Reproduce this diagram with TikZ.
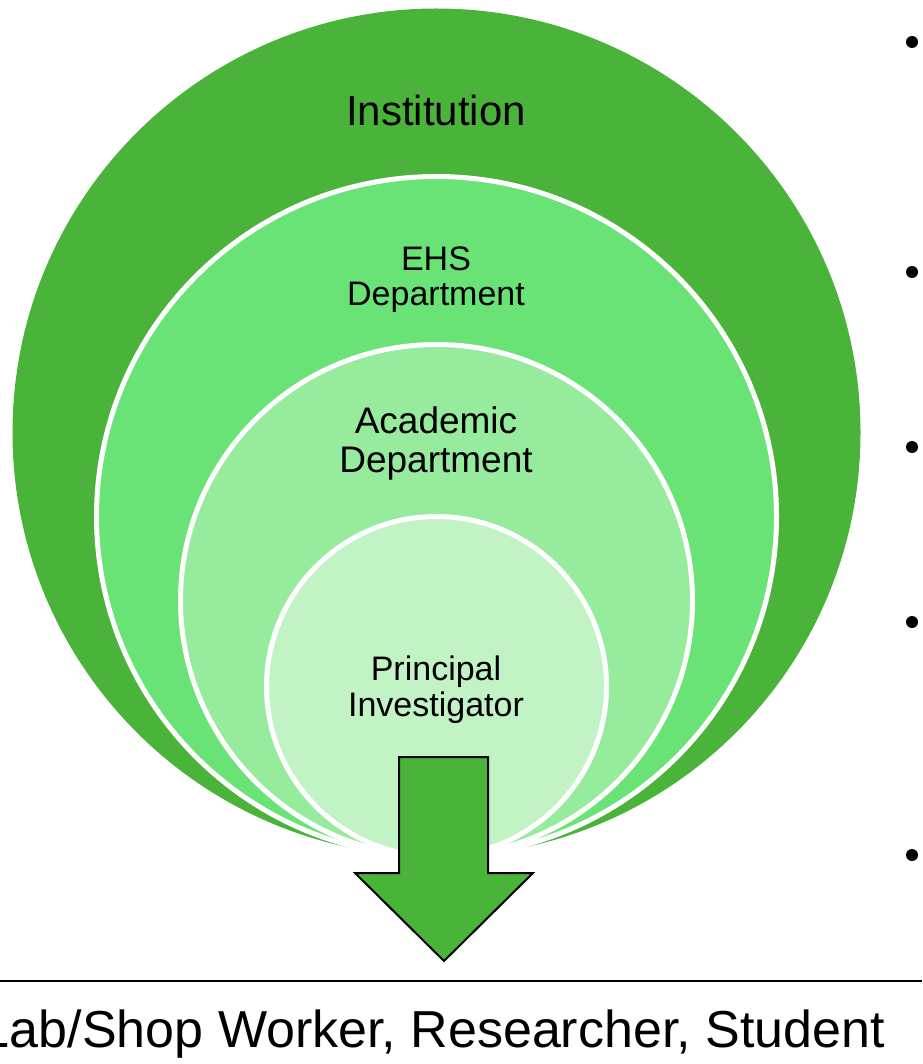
\documentclass[tikz,border=0pt]{standalone}
\usepackage{fontspec}
\setmainfont{Liberation Sans}
\definecolor{gOuter}{RGB}{73,180,57}
\definecolor{gEHS}{RGB}{106,227,118}
\definecolor{gAcad}{RGB}{150,235,156}
\definecolor{gPI}{RGB}{194,243,197}
\tikzset{
  ring/.style={line width=5pt, draw=white},
  lbl/.style={inner sep=0pt, align=center, text=black},
  bulletdot/.style={circle, fill=black, inner sep=0pt, minimum size=12pt},
}
\begin{document}
\begin{tikzpicture}[x=1pt,y=-1pt]
\useasboundingbox (0,0) rectangle (922,1064);
% nested circles (tangent at the bottom)
\fill[gOuter] (436.5,432.5) circle[radius=424];
\filldraw[ring, fill=gEHS] (436.5,516.5) circle[radius=340];
\filldraw[ring, fill=gAcad] (436.5,600.5) circle[radius=256];
\filldraw[ring, fill=gPI] (436.5,686.5) circle[radius=170];
% labels
\node[lbl, font=\fontsize{42}{44}\selectfont] (inst) at (436,110) {Institution};
\node[lbl, font=\fontsize{34}{35}\selectfont] (ehs) at (436,280) {EHS\\Department};
\node[lbl, font=\fontsize{37}{39}\selectfont] (acad) at (436,443) {Academic\\Department};
\node[lbl, font=\fontsize{34}{36}\selectfont] (pi) at (436,689.5) {Principal\\Investigator};
% down arrow
\coordinate (a1) at (399,757);
\coordinate (a2) at (488,757);
\coordinate (a3) at (488,873);
\coordinate (a4) at (533,873);
\coordinate (tip) at (444,961);
\coordinate (a6) at (355,873);
\coordinate (a7) at (399,873);
\draw[fill=gOuter, draw=black, line width=2pt, line join=miter]
  (a1) -- (a2) -- (a3) -- (a4) -- (tip) -- (a6) -- (a7) -- cycle;
% separator line
\coordinate (l1) at (0,981);
\coordinate (l2) at (922,981);
\draw[line width=2.2pt, black] (l1) -- (l2);
% bottom text
\node[lbl, anchor=base east, font=\fontsize{52}{54}\selectfont] (worker) at (885,1047) {Lab/Shop Worker, Researcher, Student};
% bullets on the right
\node[bulletdot] (b1) at (912,42) {};
\node[bulletdot] (b2) at (912,272) {};
\node[bulletdot] (b3) at (912,447) {};
\node[bulletdot] (b4) at (912,622) {};
\node[bulletdot] (b5) at (912,855) {};
\end{tikzpicture}
\end{document}
